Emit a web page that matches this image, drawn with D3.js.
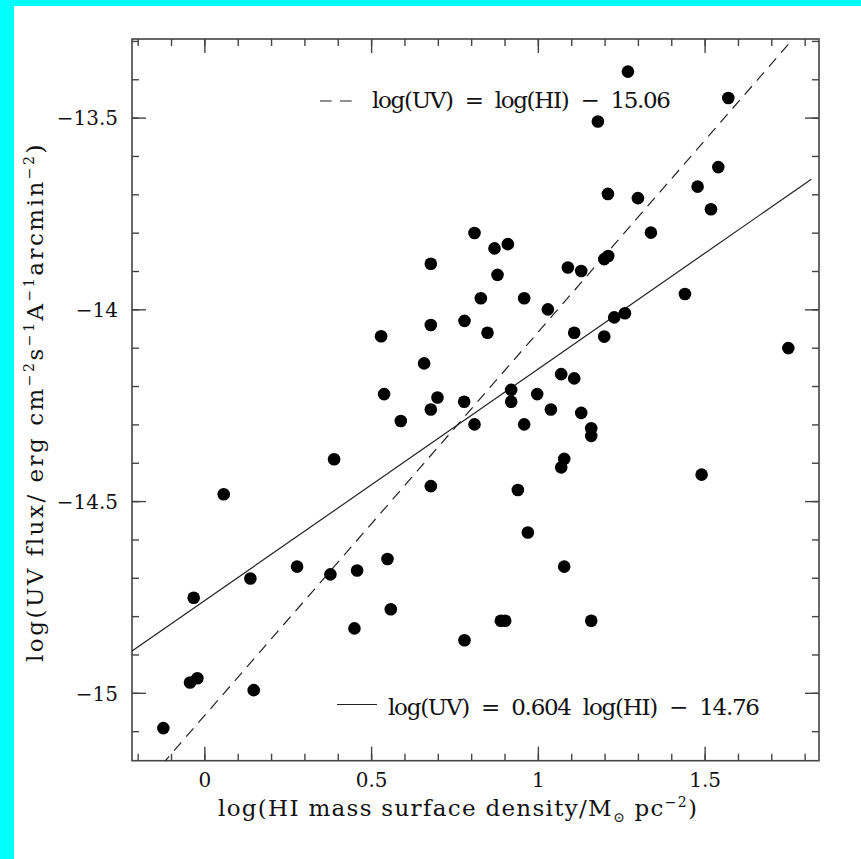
<!DOCTYPE html>
<html>
<head>
<meta charset="utf-8">
<script src="https://cdn.jsdelivr.net/npm/d3@7"></script>
<style>
  html, body { margin: 0; padding: 0; background: #00ffff; }
  svg { display: block; }
  text { font-family: "DejaVu Serif", "Liberation Serif", serif; fill: #111; }
</style>
</head>
<body>
<script>
// log HI mass surface density (x) and log UV flux (y) for each region
const hiDensity = [
  1.270, 1.571, 1.180, 1.541, 1.479, 1.210, 1.300, 1.519, 1.339, 0.810,
  0.870, 0.910, 0.679, 0.879, 1.090, 1.130, 1.199, 1.211, 0.829, 0.959,
  1.030, 0.679, 0.780, 0.849, 0.530, 1.109, 1.229, 1.261, 1.199, 1.441,
  1.751, 0.659, 1.070, 1.109, 0.539, 0.699, 0.679, 0.779, 0.920, 0.920,
  0.998, 1.039, 1.130, 0.589, 0.810, 0.959, 1.160, 1.160, 1.079, 1.070,
  0.389, 0.679, 0.940, 0.058, 1.491, 0.970, 0.549, 1.079, 0.458, 0.378,
  0.278, 0.138, -0.032, 0.559, 0.450, 0.889, 0.902, 1.160, 0.780, -0.043,
  -0.021, 0.148, -0.123
];
const uvFlux = [
  -13.380, -13.449, -13.510, -13.629, -13.680, -13.699, -13.710, -13.739, -13.800, -13.801,
  -13.841, -13.830, -13.881, -13.910, -13.891, -13.900, -13.869, -13.861, -13.971, -13.971,
  -14.000, -14.041, -14.030, -14.061, -14.070, -14.061, -14.021, -14.010, -14.071, -13.960,
  -14.101, -14.141, -14.169, -14.180, -14.221, -14.230, -14.261, -14.241, -14.210, -14.241,
  -14.221, -14.261, -14.270, -14.291, -14.300, -14.300, -14.310, -14.330, -14.390, -14.412,
  -14.391, -14.461, -14.471, -14.482, -14.431, -14.582, -14.651, -14.671, -14.681, -14.691,
  -14.671, -14.702, -14.752, -14.782, -14.832, -14.812, -14.812, -14.812, -14.863, -14.973,
  -14.962, -14.993, -15.092
];

// fitted relations
const fitSlope = 0.604, fitIntercept = -14.76;
const unitSlope = 1, unitIntercept = -15.06;
const fitRange = [-0.22, 1.82];
const unitRange = [-0.2, 1.8];

// axis ticks
const xMajor = [0, 0.5, 1, 1.5];
const xMinor = d3.range(-2, 19).map(i => i / 10);
const yMajor = [-15, -14.5, -14, -13.5];
const yMinor = d3.range(-151, -132).map(i => i / 10);

const W = 861, H = 859;
const box = { left: 132, right: 819, top: 39, bottom: 760.7 };

const svg = d3.select("body").append("svg").attr("width", W).attr("height", H);
svg.append("rect").attr("x", 14).attr("y", 6).attr("width", W - 14).attr("height", H - 6).attr("fill", "#fff");

const x = d3.scaleLinear().domain([-0.217, 1.843]).range([box.left, box.right]);
const y = d3.scaleLinear().domain([-15.177, -13.295]).range([box.bottom, box.top]);

svg.append("clipPath").attr("id", "plotclip").append("rect")
  .attr("x", box.left).attr("y", box.top)
  .attr("width", box.right - box.left).attr("height", box.bottom - box.top);

const axisColor = "#444";
const fmt = d3.format("");

function drawAxis(axisFn, scale, ticks, size, tx, ty, labels) {
  const g = svg.append("g").attr("transform", `translate(${tx},${ty})`)
    .call(axisFn(scale).tickValues(ticks).tickSizeInner(size).tickSizeOuter(0)
      .tickPadding(axisFn === d3.axisBottom ? 12 : 14)
      .tickFormat(labels ? fmt : ""));
  g.select(".domain").remove();
  g.selectAll(".tick line").attr("stroke", axisColor).attr("stroke-width", 1.4);
  g.selectAll(".tick text").attr("font-family", '"DejaVu Serif", serif').attr("font-size", 20).attr("fill", "#111");
  return g;
}
// bottom / top
drawAxis(d3.axisBottom, x, xMinor, -7, 0, box.bottom, false);
drawAxis(d3.axisBottom, x, xMajor, -14, 0, box.bottom, true);
drawAxis(d3.axisTop, x, xMinor, -7, 0, box.top, false);
drawAxis(d3.axisTop, x, xMajor, -14, 0, box.top, false);
// left / right
drawAxis(d3.axisLeft, y, yMinor, -7, box.left, 0, false);
const yl = drawAxis(d3.axisLeft, y, yMajor, -14, box.left, 0, true);
yl.selectAll(".tick text").attr("dy", "0.36em");
drawAxis(d3.axisRight, y, yMinor, -7, box.right, 0, false);
drawAxis(d3.axisRight, y, yMajor, -14, box.right, 0, false);

svg.append("rect")
  .attr("x", box.left).attr("y", box.top)
  .attr("width", box.right - box.left).attr("height", box.bottom - box.top)
  .attr("fill", "none").attr("stroke", axisColor).attr("stroke-width", 1.6);

// relation lines
const plot = svg.append("g").attr("clip-path", "url(#plotclip)");
const line = d3.line().x(d => x(d[0])).y(d => y(d[1]));
plot.append("path")
  .attr("d", line(fitRange.map(v => [v, fitSlope * v + fitIntercept])))
  .attr("fill", "none").attr("stroke", "#222").attr("stroke-width", 1.2);
plot.append("path")
  .attr("d", line(unitRange.map(v => [v, unitSlope * v + unitIntercept])))
  .attr("fill", "none").attr("stroke", "#222").attr("stroke-width", 1.2)
  .attr("stroke-dasharray", "11,7.5");

// data points
plot.selectAll("circle").data(d3.range(hiDensity.length)).join("circle")
  .attr("cx", i => x(hiDensity[i])).attr("cy", i => y(uvFlux[i]))
  .attr("r", 6.3).attr("fill", "#000");

// spread a text run over a given width
function fit(t, width) {
  const w = t.node().getComputedTextLength();
  const n = t.node().getNumberOfChars();
  t.attr("letter-spacing", (width - w) / (n - 1));
}

// legend entries
svg.append("line").attr("x1", 320).attr("x2", 352).attr("y1", 101).attr("y2", 101)
  .attr("stroke", "#222").attr("stroke-width", 1.2).attr("stroke-dasharray", "11.7,8.3");
const lt = svg.append("text").attr("x", 372).attr("y", 108).attr("font-size", 23)
  .style("white-space", "pre").text("log(UV)  =  log(HI)  \u2212  15.06");
fit(lt, 299);

svg.append("line").attr("x1", 337).attr("x2", 377).attr("y1", 704.5).attr("y2", 704.5)
  .attr("stroke", "#222").attr("stroke-width", 1.2);
const lb = svg.append("text").attr("x", 388).attr("y", 715).attr("font-size", 23)
  .style("white-space", "pre").text("log(UV)  =  0.604  log(HI)  \u2212  14.76");
fit(lb, 372);

// axis titles
const xt = svg.append("text").attr("x", 218).attr("y", 816).attr("font-size", 23).style("white-space", "pre");
xt.append("tspan").text("log(HI mass surface density/M");
xt.append("tspan").attr("font-size", 14).attr("dy", 6).text("\u2299");
xt.append("tspan").attr("dy", -6).text(" pc");
xt.append("tspan").attr("font-size", 14).attr("dy", -9).text("\u22122");
xt.append("tspan").attr("dy", 9).text(")");
fit(xt, 479);

const ytl = svg.append("text").attr("transform", "translate(43,662) rotate(-90)")
  .attr("font-size", 23).style("white-space", "pre");
ytl.append("tspan").text("log(UV flux/ erg cm");
ytl.append("tspan").attr("font-size", 14).attr("dy", -9).text("\u22122");
ytl.append("tspan").attr("dy", 9).text("s");
ytl.append("tspan").attr("font-size", 14).attr("dy", -9).text("\u22121");
ytl.append("tspan").attr("dy", 9).text("A");
ytl.append("tspan").attr("font-size", 14).attr("dy", -9).text("\u22121");
ytl.append("tspan").attr("dy", 9).text("arcmin");
ytl.append("tspan").attr("font-size", 14).attr("dy", -9).text("\u22122");
ytl.append("tspan").attr("dy", 9).text(")");
fit(ytl, 517);
</script>
</body>
</html>
